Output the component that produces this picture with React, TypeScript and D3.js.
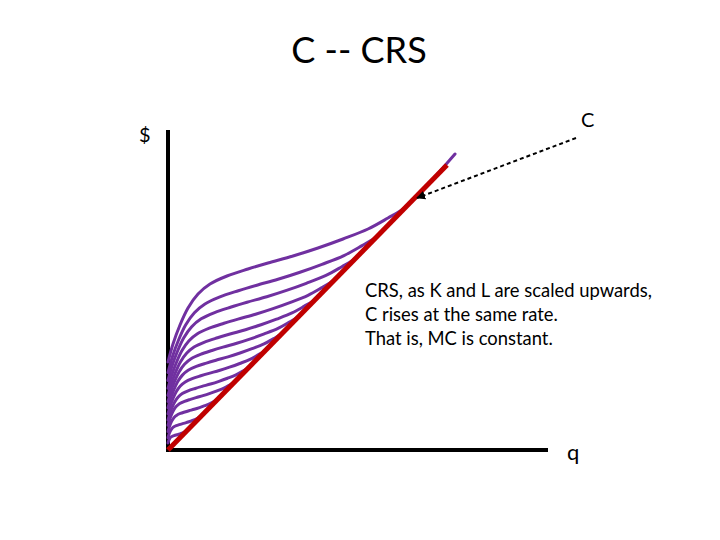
import React from "react";
import * as d3 from "d3";

// Base short-run cost curve (largest plant): quantity q, cost C
const baseQ = [0, 5, 12, 20, 30, 42, 59, 80, 100, 125, 150, 175, 200, 220, 235, 250, 265, 287];
const baseC = [88, 106, 125, 142, 156, 166, 174, 181, 187, 194, 202, 211, 221, 232, 241, 255, 271, 296];
// Scale of each plant size (K and L scaled together)
const plantScales = [1, 0.88, 0.79, 0.7, 0.62, 0.55, 0.48, 0.41, 0.34, 0.28, 0.21, 0.14, 0.08];
// Long-run cost ray (CRS)
const rayQ = [0, 279];
const rayC = [0, 285];

const title = "C -- CRS";
const noteLines = [
  "CRS, as K and L are scaled upwards,",
  "C rises at the same rate.",
  "That is, MC is constant.",
];

const W = 720;
const H = 540;
const x = d3.scaleLinear().domain([0, 380]).range([168, 548]);
const y = d3.scaleLinear().domain([0, 320]).range([450, 130]);

export default function App() {
  const line = d3
    .line<[number, number]>()
    .x((d) => x(d[0]))
    .y((d) => y(d[1]))
    .curve(d3.curveCatmullRom.alpha(0.5));

  const curves = plantScales.map((s, i) => {
    const pts: [number, number][] = [];
    baseQ.forEach((q, j) => {
      if (i === 0 || q <= 262) pts.push([q * s, baseC[j] * s]);
    });
    return pts;
  });

  const ray: [number, number][] = rayQ.map((q, i) => [q, rayC[i]]);
  const font = "Lato, 'Open Sans', sans-serif";

  return (
    <svg width={W} height={H} style={{ display: "block", margin: "-8px", background: "#fff" }}>
      <defs>
        <marker id="ah" viewBox="0 0 10 10" refX="9" refY="5" markerWidth="4.5" markerHeight="4.5" orient="auto">
          <path d="M0,0 L10,5 L0,10 z" fill="#000" />
        </marker>
      </defs>
      <text x={359} y={63} textAnchor="middle" fontFamily={font} fontSize={36} fill="#000">
        {title}
      </text>
      {/* axes */}
      <line x1={x(0)} y1={y(0) + 2} x2={x(0)} y2={y(320)} stroke="#000" strokeWidth={4} />
      <line x1={x(0) - 2} y1={y(0)} x2={x(380)} y2={y(0)} stroke="#000" strokeWidth={4} />
      <text x={139} y={142} fontFamily={font} fontSize={20} fill="#000">$</text>
      <text x={567} y={460} fontFamily={font} fontSize={22} fill="#000">q</text>
      <text x={581} y={127} fontFamily={font} fontSize={20} fill="#000">C</text>
      {curves.map((pts, i) => (
        <path key={i} d={line(pts) || ""} fill="none" stroke="#7030a0" strokeWidth={3} strokeLinecap="round" />
      ))}
      <path d={d3.line<[number, number]>().x((d) => x(d[0])).y((d) => y(d[1]))(ray) || ""} fill="none" stroke="#c00000" strokeWidth={5} />
      <line x1={576} y1={138} x2={417} y2={198} stroke="#000" strokeWidth={2} strokeDasharray="4,3" markerEnd="url(#ah)" />
      {noteLines.map((t, i) => (
        <text key={i} x={365} y={297 + i * 24} fontFamily={font} fontSize={18.4} fill="#000">
          {t}
        </text>
      ))}
    </svg>
  );
}
